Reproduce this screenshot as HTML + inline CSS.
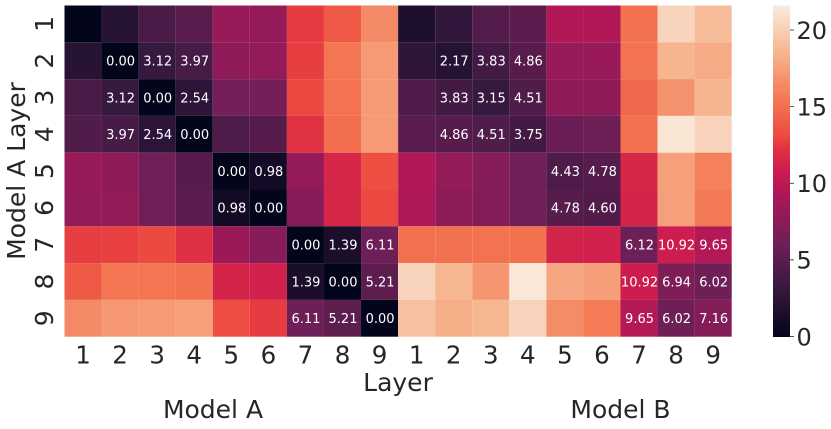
<!DOCTYPE html>
<html>
<head>
<meta charset="utf-8">
<style>
html,body{margin:0;padding:0;background:#fff;width:831px;height:429px;overflow:hidden}
svg{display:block}
text{font-family:"DejaVu Sans","Liberation Sans",sans-serif;fill:#262626}
</style>
</head>
<body>
<svg id="chart" width="831" height="429" viewBox="0 0 831 429" xmlns="http://www.w3.org/2000/svg">
  <g id="cells"></g>
  <g id="annotations"></g>
  <g id="x-ticks"></g>
  <g id="y-ticks"></g>
  <text x="398" y="391" font-size="25" text-anchor="middle">Layer</text>
  <text x="213" y="418" font-size="25" text-anchor="middle">Model A</text>
  <text x="620.5" y="418" font-size="25" text-anchor="middle">Model B</text>
  <text transform="translate(25,171) rotate(-90)" font-size="25" text-anchor="middle">Model A Layer</text>
  <g id="colorbar"></g>
</svg>
<script>
const colLabels = ["1","2","3","4","5","6","7","8","9","1","2","3","4","5","6","7","8","9"];
const rowLabels = ["1","2","3","4","5","6","7","8","9"];
const row1 = [0.0,2.2,4.2,4.9,8.2,8.0,12.6,14.0,16.4,1.6,2.8,4.7,5.1,9.5,9.5,15.2,20.3,19.0];
const row2 = [2.2,0.00,3.12,3.97,7.7,7.9,12.7,15.4,17.2,2.6,2.17,3.83,4.86,8.2,8.3,15.3,18.5,18.0];
const row3 = [4.2,3.12,0.00,2.54,6.5,6.5,13.0,15.3,17.3,4.6,3.83,3.15,4.51,7.7,7.7,14.7,16.8,18.5];
const row4 = [4.6,3.97,2.54,0.00,4.4,4.8,12.3,15.0,17.2,5.0,4.86,4.51,3.75,5.9,6.0,15.2,21.3,20.2];
const row5 = [8.2,7.7,6.3,4.8,0.00,0.98,8.0,11.6,13.4,9.5,8.0,7.3,6.2,4.43,4.78,11.6,17.5,16.0];
const row6 = [7.9,7.9,6.3,5.0,0.98,0.00,7.4,11.6,13.0,9.4,7.6,7.1,6.2,4.78,4.60,11.4,17.5,15.6];
const row7 = [12.7,12.8,13.1,12.2,8.4,7.3,0.00,1.39,6.11,15.1,15.2,15.3,15.2,11.3,11.2,6.12,10.92,9.65];
const row8 = [14.0,15.4,15.4,15.2,11.4,11.2,1.39,0.00,5.21,20.3,18.6,17.0,21.4,17.8,17.4,10.92,6.94,6.02];
const row9 = [16.4,17.1,17.2,17.5,13.3,12.6,6.11,5.21,0.00,19.2,18.2,18.6,20.2,16.5,15.7,9.65,6.02,7.16];
const heatRows = [row1,row2,row3,row4,row5,row6,row7,row8,row9];
const annotatedBlocks = [[1,3],[4,5],[6,8]];
const colorbarTicks = [0,5,10,15,20];
const colorMax = 21.6;

const SVG_NS = "http://www.w3.org/2000/svg";
const plot = {left:64.5, right:731.7, top:5.5, bottom:336.7};
const bar = {left:773, right:790, top:5.5, bottom:336.5};
const rocketStops = [
  [0,3,5,26],[0.1429,53,25,62],[0.2857,112,31,87],[0.4286,173,23,89],[0.5,203,27,79],
  [0.5714,225,51,66],[0.6,236,70,64],[0.7143,243,118,81],[0.8571,246,180,143],[1,250,235,221]
];

function rocket(t){
  const v = Math.max(0, Math.min(1, t));
  let i = 0;
  while (i < rocketStops.length - 2 && v > rocketStops[i + 1][0]) i++;
  const a = rocketStops[i], b = rocketStops[i + 1];
  const f = (v - a[0]) / (b[0] - a[0]);
  return "rgb(" + [1,2,3].map(k => Math.round(a[k] + (b[k] - a[k]) * f)).join(",") + ")";
}
function xScale(i){ return plot.left + (plot.right - plot.left) * i / colLabels.length; }
function yScale(i){ return plot.top + (plot.bottom - plot.top) * i / rowLabels.length; }
function barY(v){ return bar.bottom - (bar.bottom - bar.top) * v / colorMax; }
function isAnnotated(r, c){
  return annotatedBlocks.some(b => r >= b[0] && r <= b[1] &&
    ((c >= b[0] && c <= b[1]) || (c - 9 >= b[0] && c - 9 <= b[1])));
}
function make(tag, attrs){
  const el = document.createElementNS(SVG_NS, tag);
  for (const k in attrs) el.setAttribute(k, attrs[k]);
  return el;
}

const cellsG = document.getElementById("cells");
const annG = document.getElementById("annotations");
heatRows.forEach((row, r) => {
  row.forEach((v, c) => {
    const x0 = xScale(c), x1 = xScale(c + 1), y0 = yScale(r), y1 = yScale(r + 1);
    const cell = make("rect", {x:x0, y:y0, width:x1 - x0, height:y1 - y0, fill:rocket(v / colorMax)});
    
    
    cellsG.appendChild(cell);
    if (isAnnotated(r, c)) {
      const t = make("text", {x:(x0 + x1) / 2 + 0.5, y:(y0 + y1) / 2 + 4.8, "font-size":13, "text-anchor":"middle", style:"fill:#fff"});
      
      
      t.textContent = v.toFixed(2);
      annG.appendChild(t);
    }
  });
});

const xG = document.getElementById("x-ticks");
colLabels.forEach((label, i) => {
  const t = make("text", {x:(xScale(i) + xScale(i + 1)) / 2, y:363.5, "font-size":24.5, "text-anchor":"middle"});
  
  
  t.textContent = label;
  xG.appendChild(t);
});

const yG = document.getElementById("y-ticks");
rowLabels.forEach((label, i) => {
  const cy = (yScale(i) + yScale(i + 1)) / 2;
  const t = make("text", {transform:"translate(52.8," + cy + ") rotate(-90)", "font-size":25, "text-anchor":"middle"});
  
  
  t.textContent = label;
  yG.appendChild(t);
});

const cbG = document.getElementById("colorbar");
const steps = 256;
for (let s = 0; s < steps; s++) {
  const y0 = bar.top + (bar.bottom - bar.top) * s / steps;
  const h = (bar.bottom - bar.top) / steps + 0.5;
  const seg = make("rect", {x:bar.left, y:y0, width:bar.right - bar.left, height:h, fill:rocket(1 - s / steps)});
  
  
  cbG.appendChild(seg);
}
colorbarTicks.forEach(v => {
  const y = barY(v);
  const line = make("line", {x1:bar.right, x2:bar.right + 4, y1:y, y2:y, stroke:"#262626", "stroke-width":0.8});
  
  
  cbG.appendChild(line);
  const t = make("text", {x:bar.right + 6.5, y:y + 8.8, "font-size":24});
  
  
  t.textContent = String(v);
  cbG.appendChild(t);
});
</script>
</body>
</html>
